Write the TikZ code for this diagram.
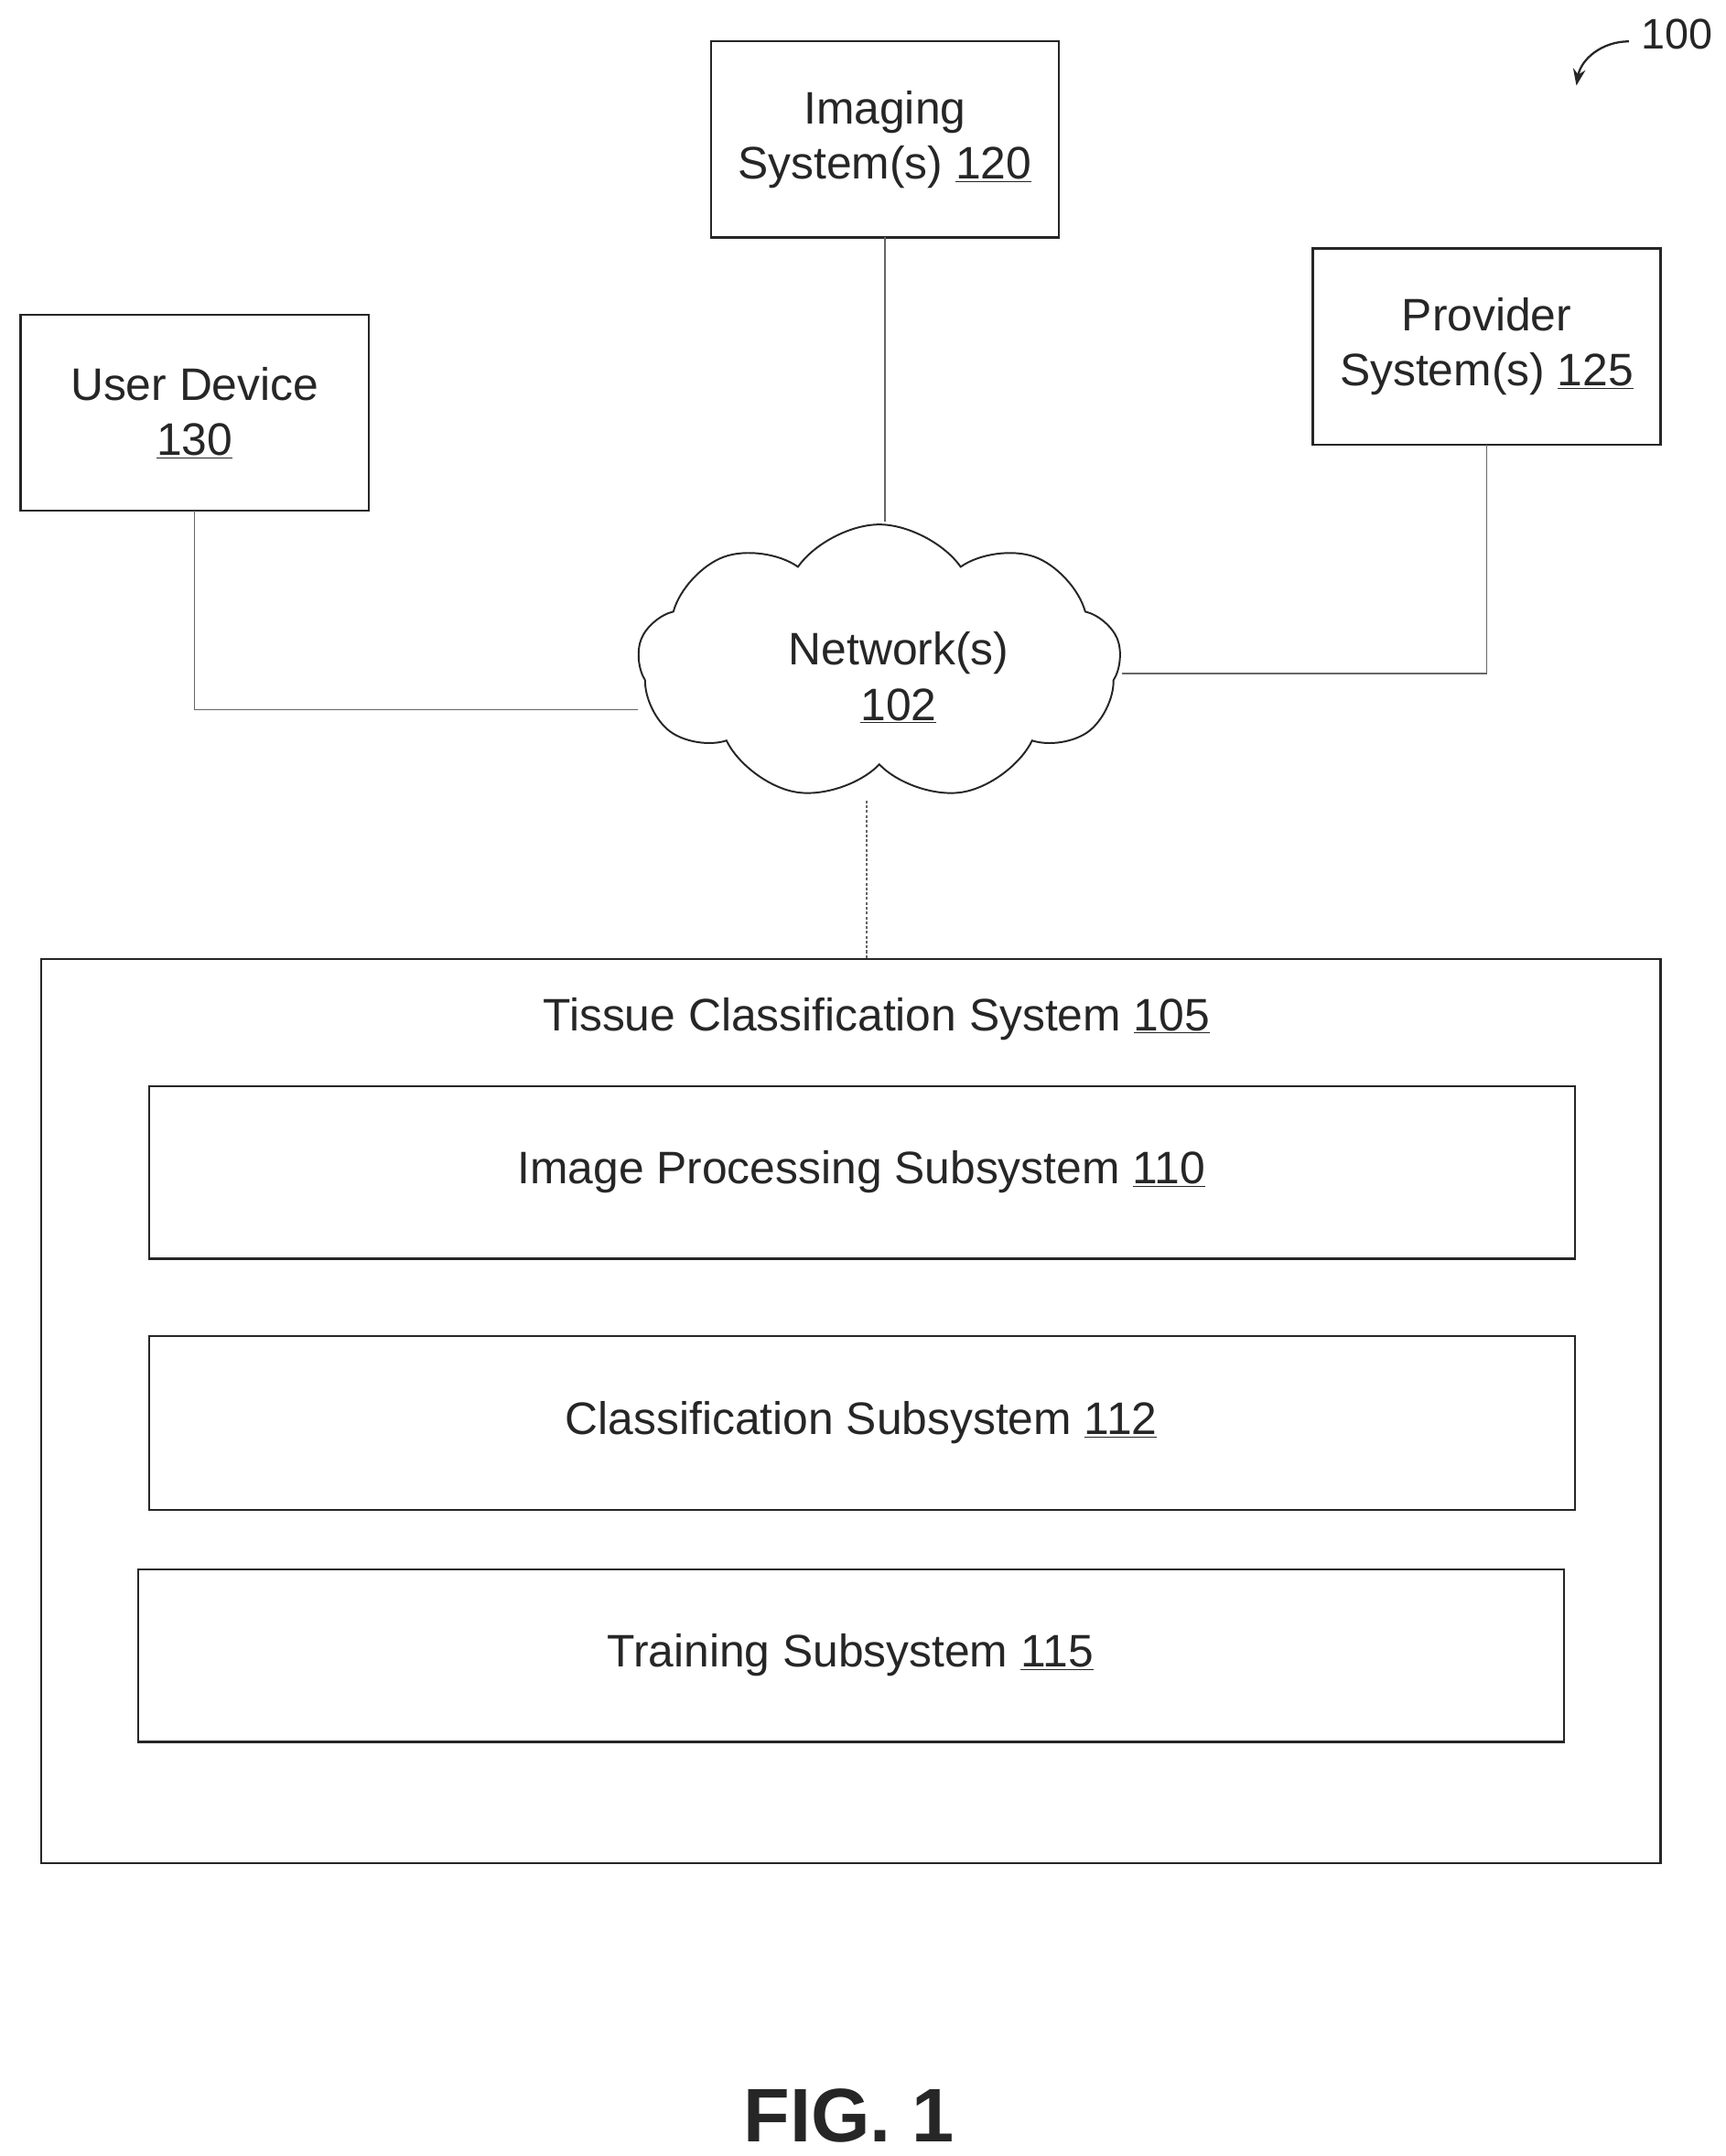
\documentclass[tikz,border=0pt]{standalone}
\usepackage{fontspec}
\setmainfont{Liberation Sans}
\usetikzlibrary{arrows.meta,shapes.symbols}
\begin{document}
\begin{tikzpicture}[x=1pt,y=-1pt,
  box/.style={draw=black!85,line width=1.5pt,inner sep=0pt},
  conn/.style={draw=black!60,line width=1pt},
  lbl/.style={font=\fontsize{33}{40}\selectfont,align=center,text=black!85}]
\useasboundingbox (0,0) rectangle (1250,1562);
\draw[box] (515,30) rectangle (767,172);
\node[lbl] (img) at (641,101) {Imaging\\System(s) \underline{120}};
\draw[box] (15,228) rectangle (267,370);
\node[lbl] (ud) at (141,299) {User Device\\\underline{130}};
\draw[box] (951,180) rectangle (1203,322);
\node[lbl] (prov) at (1077,251) {Provider\\System(s) \underline{125}};
% cloud
\node[cloud,cloud puffs=9,cloud puff arc=110,draw=black!85,line width=1.3pt,
  minimum width=350pt,minimum height=200pt,inner sep=0pt] (cl) at (637,480) {};
\node[lbl] (net) at (651,491) {Network(s)\\\underline{102}};
\coordinate (ctop) at (641,378);
\coordinate (cleft) at (462,514);
\coordinate (cright) at (813,488);
\coordinate (cbot) at (628,580);
\draw[conn] (641,172) -- (ctop);
\draw[conn] (141,370) |- (cleft);
\draw[conn] (1077,322) |- (cright);
\draw[conn,dash pattern=on 2pt off 1.5pt] (cbot) -- (628,695);
\draw[box] (30,695) rectangle (1203,1350);
\node[lbl] (tcs) at (635,738) {Tissue Classification System \underline{105}};
\draw[box] (108,787) rectangle (1141,912);
\node[lbl] (ips) at (624,849) {Image Processing Subsystem \underline{110}};
\draw[box] (108,968) rectangle (1141,1094);
\node[lbl] (cs) at (624,1031) {Classification Subsystem \underline{112}};
\draw[box] (100,1137) rectangle (1133,1262);
\node[lbl] (ts) at (616,1199) {Training Subsystem \underline{115}};
\node[font=\fontsize{55}{60}\selectfont\bfseries,text=black!85] (fig) at (615,1533) {FIG. 1};
\node[lbl,font=\fontsize{31}{36}\selectfont] (n100) at (1215,25) {100};
\draw[line width=1.5pt,black!85,-{Stealth[length=12pt,width=9pt]}] (1180,30) to[out=180,in=80] (1142,62);
\end{tikzpicture}
\end{document}
